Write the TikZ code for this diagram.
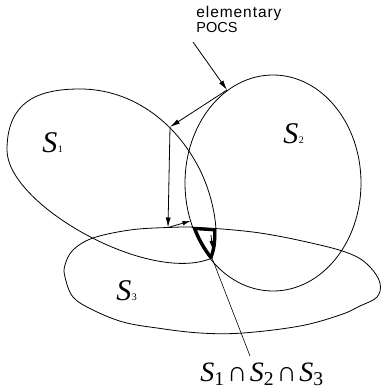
\documentclass[tikz,border=0pt]{standalone}
\usepackage{fontspec}
\setmainfont{Liberation Serif}
\newfontfamily\hv{Liberation Sans}
\newfontfamily\hvsp{Liberation Sans}[LetterSpace=6]
\usetikzlibrary{arrows.meta}
\newcommand\reglbl[1]{{\fontsize{30}{30}\selectfont\itshape S}\kern0.5pt{\fontsize{10}{10}\selectfont #1}}
\newcommand\Sone{(212,258) .. controls (150,285) and (7,205) .. (7,150) .. controls (7,100) and (40,89) .. (80,89) .. controls (130,89) and (175,120) .. (200,170) .. controls (212,194) and (222,235) .. (212,258) -- cycle}
\newcommand\Stwo{(273,183) ellipse [x radius=88, y radius=108]}
\newcommand\Sthree{plot[smooth cycle, tension=0.6] coordinates {(93,238) (130,230) (168,227.5) (200,227.5) (260,233) (320,245) (353,255) (370,267) (380,283) (377,297) (360,306) (340,315) (300,326) (243,333) (200,333) (157,328) (123,322) (93,310) (73,297) (65,277) (65,265) (73,250)}}
\newcommand\capsym{\kern2.5pt∩\kern2.5pt}
\begin{document}
\begin{tikzpicture}[x=1pt,y=-1pt,line width=0.8pt,
  arr/.style={-{Latex[length=10pt,width=5pt]}},
  sarr/.style={-{Latex[length=8pt,width=4.5pt]}},
  setlbl/.style={anchor=base west,inner sep=0pt}]
\useasboundingbox (0,0) rectangle (381,390);
% sets
\draw \Sone;
\draw \Stwo;
\draw \Sthree;
% intersection outline
\begin{scope}
  \clip \Sone;
  \clip \Stwo;
  \clip \Sthree;
  \draw[line width=6pt] \Sone;
  \draw[line width=6pt] \Stwo;
  \draw[line width=6pt] \Sthree;
\end{scope}
% labels
\node[setlbl] (l1) at (42,152) {\reglbl{1}};
\node[setlbl] (l2) at (283,143) {\reglbl{2}};
\node[setlbl] (l3) at (116,300) {\reglbl{3}};
\node[setlbl,font=\hvsp\fontsize{15.5}{15.5}\selectfont] (e1) at (196,18) {elementary};
\node[setlbl,font=\hv\fontsize{14.5}{14.5}\selectfont] (e2) at (196,33) {POCS};
\node[setlbl] (res) at (200,381) {\fontsize{28}{28}\selectfont \textit{S}\textsubscript{1}\capsym\textit{S}\textsubscript{2}\capsym\textit{S}\textsubscript{3}};
% POCS steps
\coordinate (p0) at (193,42);
\coordinate (p1) at (227,90);
\coordinate (p2) at (170,127);
\coordinate (p3) at (168,227.5);
\coordinate (p4) at (190.5,221);
\coordinate (p5) at (211,235);
\coordinate (p6) at (212.5,249);
\coordinate (tip) at (212,258);
\coordinate (lp) at (250,356);
\draw[arr] (p0) -- (p1);
\draw[arr] (p1) -- (p2);
\draw[arr] (p2) -- (p3);
\draw[sarr] (p3) -- (p4);
\draw[sarr] (p5) -- (p6);
\draw[line width=0.6pt] (tip) -- (lp);
\end{tikzpicture}
\end{document}
